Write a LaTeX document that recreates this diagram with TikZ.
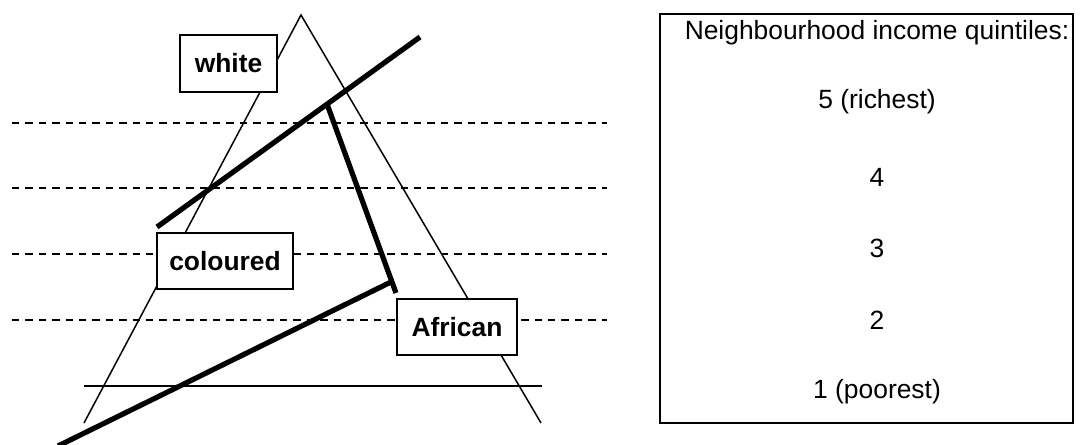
\documentclass[tikz,border=0pt]{standalone}
\usepackage{fontspec}
\setmainfont{Liberation Sans}
\usetikzlibrary{positioning}

\begin{document}
\begin{tikzpicture}[x=0.5pt, y=-0.5pt,
                font=\fontsize{13.2}{16}\selectfont,
                thn/.style={line width=0.75pt},
                thk/.style={line width=2.6pt},
                gridln/.style={line width=1pt, dash pattern=on 3.7pt off 3pt},
                lbl/.style n args={2}{draw, fill=white, line width=1pt,
                    font=\fontsize{13.2}{16}\selectfont\bfseries,
                    minimum width=#1*0.5pt, minimum height=#2*0.5pt,
                    inner sep=0pt}]
    \useasboundingbox (0,0) rectangle (1080,444);
    % income bands
    \foreach \yy in {123,188,254,320}
        \draw[gridln] (12,\yy) -- (607,\yy);
    % the triangle
    \coordinate (apex) at (301,15);
    \coordinate (bl) at (84,423);
    \coordinate (br) at (541,423);
    \coordinate (hl) at (84,386);
    \coordinate (hr) at (542,386);
    \draw[thn] (bl) -- (apex) -- (br);
    \draw[thn] (hl) -- (hr);
    % group lines
    \coordinate (w0) at (157,227);
    \coordinate (w1) at (420,37);
    \coordinate (c0) at (327,104);
    \coordinate (c1) at (396,293);
    \coordinate (a0) at (58,446);
    \coordinate (a1) at (393,281);
    \draw[thk] (w0) -- (w1);
    \draw[thk] (c0) -- (c1);
    \draw[thk] (a0) -- (a1);
    % labels
    \node[lbl={97}{57}] (nwhite) at (228.5,63.5) {white};
    \node[lbl={136}{56}] (ncol) at (225,261) {coloured};
    \node[lbl={120}{56}] (nafr) at (457,327) {African};
    % legend
    \node[draw, line width=1.1pt, minimum width=206.5pt, minimum height=204.5pt]
        (legend) at (866.5,218.5) {};
    \node (qhead) at (877,33) {Neighbourhood income quintiles:};
    \node (q5) at (877,102) {5 (richest)};
    \node (q4) at (877,177) {4};
    \node (q3) at (877,248) {3};
    \node (q2) at (877,320) {2};
    \node (q1) at (877,392) {1 (poorest)};
\end{tikzpicture}
\end{document}
